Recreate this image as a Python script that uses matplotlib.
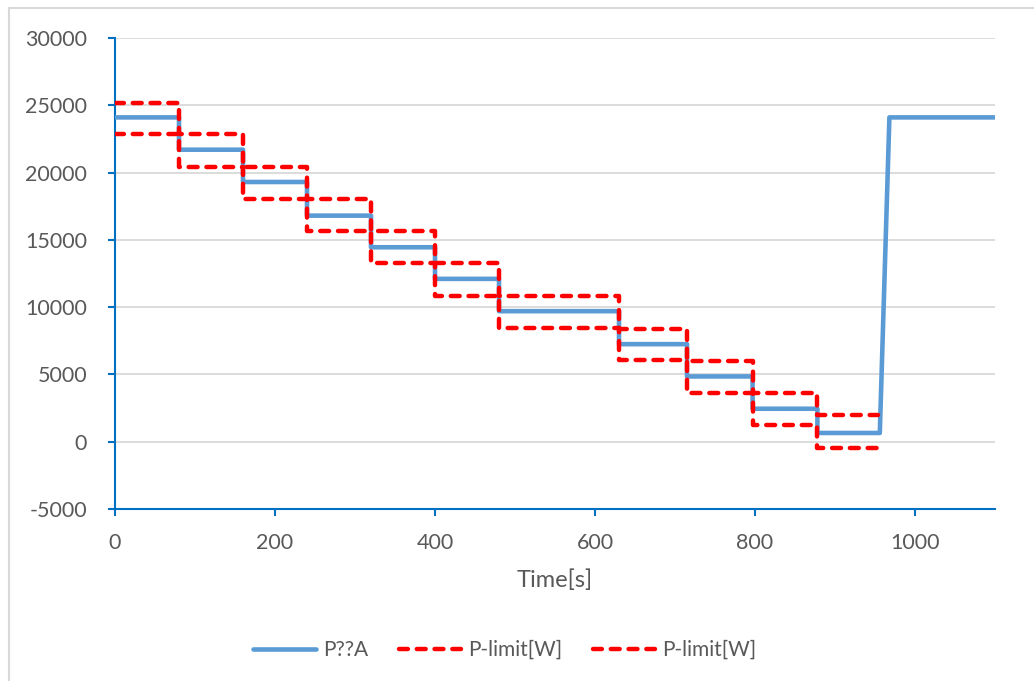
import numpy as np
import matplotlib
matplotlib.use('Agg')
import matplotlib.pyplot as plt
from matplotlib.lines import Line2D

plt.rcParams['font.family'] = ['Lato', 'DejaVu Sans']
plt.rcParams['axes.unicode_minus'] = False

# step start times [s] and the levels held after each one
stepTimes = [0, 80, 160, 240, 320, 400, 480, 630, 715, 797, 878]
powerLevels = [24100, 21700, 19300, 16800, 14450, 12100, 9700, 7250, 4850, 2450, 650]
limitHigh = [25200, 22850, 20450, 18050, 15650, 13250, 10800, 8400, 6030, 3620, 1960]
limitLow = [22850, 20450, 18050, 15650, 13270, 10850, 8450, 6040, 3620, 1220, -470]
limitEnd = 954
# after the last step the power ramps back up
rampTimes = [956, 968, 1100]
rampPower = [650, 24100, 24100]

textColor = '#595959'
axisBlue = '#0070C0'
lineBlue = '#5B9BD5'


def stepVertices(times, levels, tEnd):
    xs, ys = [], []
    bounds = list(times[1:]) + [tEnd]
    for t0, t1, v in zip(times, bounds, levels):
        xs += [t0, t1]
        ys += [v, v]
    return xs, ys


fig = plt.figure(figsize=(10.34, 6.81), dpi=100)
ax = fig.add_axes([115/1034, 1-509/681, 880/1034, 471/681])

bx, by = stepVertices(stepTimes, powerLevels, rampTimes[0])
bx += rampTimes[1:]
by += rampPower[1:]
ax.plot(bx, by, color=lineBlue, lw=3.3, solid_capstyle='round', solid_joinstyle='round', label='P??A', zorder=3)

dashStyle = dict(color='#FF0000', lw=3.2, dashes=(2.0, 2.0), dash_capstyle='round', zorder=4)
hx, hy = stepVertices(stepTimes, limitHigh, limitEnd)
lx, ly = stepVertices(stepTimes, limitLow, limitEnd)
ax.plot(hx, hy, label='P-limit[W]', **dashStyle)
ax.plot(lx, ly, label='P-limit[W]', **dashStyle)

ax.set_xlim(0, 1100)
ax.set_ylim(-5000, 30000)
ax.set_xticks(np.arange(0, 1001, 200))
ax.set_yticks(np.arange(-5000, 30001, 5000))
ax.grid(axis='y', color='#D9D9D9', lw=1.3, zorder=0)
ax.set_axisbelow(True)
for s in ['top', 'right']:
    ax.spines[s].set_visible(False)
for s in ['left', 'bottom']:
    ax.spines[s].set_color(axisBlue)
    ax.spines[s].set_linewidth(1.5)
ax.tick_params(axis='both', colors=axisBlue, labelcolor=textColor, labelsize=15.5,
               length=5, width=1.5, direction='out')
ax.tick_params(axis='x', pad=12)
ax.tick_params(axis='y', pad=15)
ax.set_xlabel('Time[s]', color=textColor, fontsize=17, labelpad=12)

fig.legend(loc='center', bbox_to_anchor=(505/1034, 1-650/681), ncol=3, frameon=False,
           fontsize=15, labelcolor=textColor, handlelength=3, handletextpad=0.35,
           columnspacing=1.45)

# chart area border
fig.add_artist(Line2D([9/1034, 9/1034], [0, 1-8/681], color='#D9D9D9', lw=1.5))
fig.add_artist(Line2D([9/1034, 1], [1-8/681, 1-8/681], color='#D9D9D9', lw=1.5))

fig.savefig('out.png', dpi=100)
